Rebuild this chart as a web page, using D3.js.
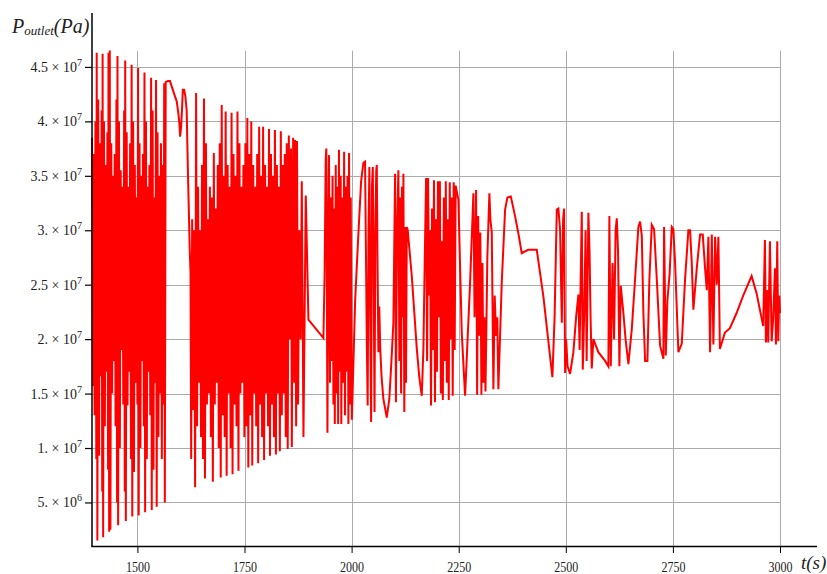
<!DOCTYPE html>
<html>
<head>
<meta charset="utf-8">
<script src="https://cdn.jsdelivr.net/npm/d3@7"></script>
<style>
  body { margin: 0; background: #fff; }
  svg { display: block; }
</style>
</head>
<body>
<div id="chart"></div>
<script>
// tick values / labels
const xTicks = [1500, 1750, 2000, 2250, 2500, 2750, 3000];
const yTicks = [4.5e7, 4e7, 3.5e7, 3e7, 2.5e7, 2e7, 1.5e7, 1e7, 5e6];
const yMantissa = ["4.5", "4.", "3.5", "3.", "2.5", "2.", "1.5", "1.", "5."];
const yExponent = ["7", "7", "7", "7", "7", "7", "7", "7", "6"];

// P_outlet series, [t (s), pressure (MPa)], read segment by segment
const segA = [[1394,38.5],[1396,15.7],[1398,37],[1400,13],[1402,40],[1404,9],[1405,46.3],[1406.5,1.5],[1408.5,42],[1410.5,9.3],[1412.5,38],[1414.5,16.6],[1416.5,41],[1417.8,6],[1418.8,46.2],[1420,1.8],[1422,40],[1424,12],[1426,36],[1428,17],[1430,39],[1431.5,8],[1432.5,46.3],[1434,2.3],[1435.5,46.5],[1437,2.5],[1439,38],[1441,15],[1443,35],[1445,18],[1447,37],[1449,12],[1451,42],[1452.5,5],[1453.5,46],[1455,2.9],[1457,40],[1459,10],[1461,35.5],[1463,19],[1465,34],[1467,14],[1469,41],[1470.5,6],[1471.5,45.6],[1473,3.3],[1475,39],[1477,13.9],[1479,34],[1481,17],[1483,38],[1485,9],[1486.5,45.2],[1488,3.7],[1490,40],[1492,7.8],[1494,36],[1496,16],[1498,33],[1500,14],[1501.5,44.9],[1503,3.8],[1505,38],[1507,10],[1509,35],[1511,18],[1513,37],[1515,12],[1516.5,44.5],[1518,4.1],[1520,40],[1522,9],[1524,34],[1526,17],[1528,36],[1530,13],[1532,44],[1533.5,4.3],[1535.5,41],[1537.5,8],[1539.5,33],[1541.5,16],[1543.5,43.8],[1545,4.6],[1547,39],[1549,11],[1551,35],[1553,15],[1555,38],[1557,9],[1559,36],[1561,14],[1562.5,43.5],[1564,5],[1566,43.6]];
const segCurve = [[1571,43.7],[1576,43.7],[1581,43.1],[1586,42.5],[1592,41.8],[1596,40.6],[1598,39.8],[1599.7,38.6],[1602,39.5],[1604,41.0],[1606,42.9],[1609,42.9],[1612,42.3],[1615,41.0],[1618,35.2],[1622,28.5],[1624,26]];
const segB = [[1625.5,9],[1627.8,31],[1630.1,13.5],[1632.4,30],[1634.7,6.4],[1637,42.6],[1639.3,12],[1641.6,34],[1643.9,16],[1646.2,30],[1648.5,11],[1650.8,36],[1653.1,9],[1655.4,42.1],[1657.7,7.2],[1660,38],[1662.3,14],[1664.6,31],[1666.9,15],[1669.2,34],[1671.5,11],[1673.8,33],[1676.1,6.9],[1678.4,37.1],[1680.7,14],[1683,32],[1685.3,16],[1687.6,36],[1689.9,10],[1692.2,38],[1694.5,7.3],[1696.8,41.5],[1699.1,13],[1701.4,35],[1703.7,11],[1706,40.9],[1708.3,7.45],[1710.6,36],[1712.9,15],[1715.2,34],[1717.5,10],[1719.8,40.8],[1722.1,7.6],[1724.4,37],[1726.7,14],[1729,35],[1731.3,12],[1733.6,40.9],[1735.9,7.9],[1738.2,38],[1740.5,15],[1742.8,34],[1745.1,16],[1747.4,36],[1749.7,11],[1752,38],[1754.3,12],[1756.6,40.3],[1758.9,8.2],[1761.2,37],[1763.5,13],[1765.8,40],[1768.1,8.4],[1770.4,36],[1772.7,15],[1775,34],[1777.3,12],[1779.6,37],[1781.9,8.6],[1784.2,39.5],[1786.5,14],[1788.8,35],[1791.1,11],[1793.4,39.5],[1795.7,8.9],[1798,36],[1800.3,15],[1802.6,34],[1804.9,12],[1807.2,39.3],[1809.5,9.3],[1811.8,37],[1814.1,14],[1816.4,35],[1818.7,11],[1821,39.2],[1823.3,9.4],[1825.6,36],[1827.9,15],[1830.2,34],[1832.5,9.7],[1834.8,39.1],[1837.1,13],[1839.4,36],[1841.7,15],[1844,37],[1846.3,11],[1848.6,38],[1850.9,9.9]];
const segBtail = [[1853.5,38.7],[1856,20],[1858.5,37.5],[1860.5,10.1],[1863.5,38.5],[1866,16],[1868,38.3],[1870.5,12],[1872.5,38.2],[1875,14],[1878,30],[1881,20],[1883.7,34.5],[1887.6,11],[1893,33.2],[1899.2,21.8],[1934.2,20.1]];
const segC = [[1937,26],[1939.5,36.5],[1941,37.5],[1943.6,11.4],[1945.6,30],[1947.2,36.9],[1949.5,16],[1951.5,33],[1953.5,18],[1955.5,35],[1957.5,14],[1959.5,32],[1960.8,12.2],[1963,36],[1965,15],[1967,34],[1968.6,12.2],[1970.5,37.4],[1972.5,17],[1974.5,35],[1976,12.2],[1978,33],[1980,16],[1982.5,37.2],[1984.5,13],[1986.5,34],[1988.5,17],[1990.5,35],[1992.5,12.2],[1994,37.1],[1996,14],[1998,33],[2000.5,12.6]];
const segD = [[2008.3,23.6],[2016,29.8],[2022.2,34.5],[2027.5,36.2],[2031.4,36.3],[2033.5,28],[2035.4,20],[2037.5,13.9],[2039.5,30],[2041.5,35.8],[2043.5,22],[2045.5,12.4],[2047.5,34],[2049.5,35.8],[2051.5,26],[2053.5,13.3],[2055.5,30],[2057.5,35.5],[2058.8,36],[2060.5,27],[2062.5,18.8],[2064.5,23],[2067,19],[2070,16.5],[2074.2,14.5],[2082.1,12.8],[2088,14.5],[2093,18],[2097.5,21.5]];
const segE = [[2101.5,35.2],[2103.5,14.2],[2106,30],[2109.2,35.5],[2111.5,18],[2113.5,33],[2115.5,15],[2117.5,34],[2119,22],[2120.9,35.2],[2123,13.3],[2125,30.3],[2127,16],[2128.8,30.3],[2131,30],[2140.5,25.8],[2152.2,19.1],[2158,16.5],[2163.8,14.8],[2167.6,19.1],[2171,28]];
const segF = [[2173.9,34.8],[2176.2,18],[2178.5,34.8],[2180.8,24],[2183.1,30],[2185.4,13.9],[2187.7,32],[2190,19],[2192.3,34.6],[2194.6,14.2],[2196.9,31],[2199.2,17],[2201.5,34.5],[2203.8,22],[2206.1,34.5],[2208.4,15],[2210.7,29],[2213,14.4],[2215.3,33],[2217.6,18],[2219.9,34.5],[2222.2,16],[2224.5,31],[2226.8,14.4],[2229.1,34.4],[2231.4,20],[2233.7,33],[2236,14.8],[2238.3,34.4],[2240.6,19],[2242.9,34.1],[2249.3,32.8],[2257.1,20.6],[2264.9,14.8],[2276.6,25.2]];
const segG = [[2284.3,33.4],[2287,22],[2290.6,33.7],[2293,14.9],[2295.5,31.3],[2298,20.3],[2300.5,29.8],[2303,14.9],[2305.5,27],[2307.6,16],[2310,22],[2312.5,15.2],[2316.9,27.6],[2321.6,33.4],[2324,31],[2327.2,29.8],[2331,15.4],[2334,24],[2337.3,20.3],[2340,22],[2342.6,15.4],[2350.5,25.2],[2358.3,31.9],[2363.7,33],[2371.6,33.1],[2381.6,31.3],[2389.3,29.7],[2397.2,27.9],[2412,28.2],[2432.3,28.2],[2447.7,23.9],[2468.7,16.5]];
const segH = [[2473.8,22],[2479,31.9],[2482.7,32],[2486.7,30],[2490.7,21.5],[2493.7,31],[2496,32],[2498.4,16.9],[2500.7,20],[2504.1,17.5],[2510,16.8],[2517.7,18.8],[2524,22],[2529.4,24.1],[2532.2,19],[2534.5,25],[2537.3,31.7],[2539.6,17.2],[2542.7,22],[2546.2,30],[2548.6,18],[2552.7,31.6],[2555.5,28],[2557.8,22],[2560.6,17.3],[2564.4,20],[2576,18.8],[2591.7,18],[2599.4,17.5],[2601.7,31.3],[2605,17.5],[2609.2,27],[2612.7,20],[2616.2,30],[2619,31.1],[2622,28],[2625.1,17.5]];
const segI = [[2628.3,24.9],[2634.4,22.4],[2639.5,20],[2646.1,17.7],[2654,20.9],[2661.7,25.5],[2669.4,30.3],[2673.4,30.8],[2677.4,29.5],[2681.1,22.4],[2685.1,18],[2690.5,18],[2695.1,25.5],[2700.7,30.5],[2706.1,30.1],[2712.4,25.5],[2720.1,19.4],[2727.8,18.2],[2729.4,30.3],[2733.4,18.5],[2737.1,23.5],[2742.3,26],[2747.4,30.3],[2751.1,30.1],[2755.1,27],[2762.8,18.8],[2770.7,19.6],[2778.4,25.5],[2786.1,30],[2790.1,30],[2794,27],[2797.8,22.7],[2805.7,26.5],[2813.4,29.6],[2819.7,29.6],[2825.1,26.5],[2829.1,24.5],[2832.8,29.4],[2836.8,18.8],[2840.8,29.6],[2844.5,19.5],[2848.5,29.4],[2852.5,25],[2856.2,29.4],[2859.7,19.1]];
const segJ = [[2871.4,20.6],[2883.1,21],[2898.7,22.4],[2914.1,24],[2933.7,25.8],[2945.4,24.2],[2953.1,22.7],[2960.8,21.2],[2964.8,29.1],[2967.1,19.7],[2970.2,24.5],[2972.5,19.7],[2976.5,29],[2980.5,19.8],[2984.2,22],[2988.2,26.5],[2990.5,19.5],[2993.6,29],[2995.9,19.8],[2998.3,24],[3000,22.4]];

const series = [].concat(segA, segCurve, segB, segBtail, segC, segD, segE, segF, segG, segH, segI, segJ)
    .map(d => ({t: d[0], p: d[1] * 1e6}));

const W = 827, H = 574;
const svg = d3.select("#chart").append("svg")
    .attr("width", W)
    .attr("height", H);

const x = d3.scaleLinear().domain([1394, 3000]).range([92, 780]);
const y = d3.scaleLinear().domain([1e6, 5e7]).range([546, 12.5]);

// grid
const grid = svg.append("g").attr("stroke", "#ababab").attr("stroke-width", 1);
grid.selectAll(".vg").data(xTicks).join("line")
    .attr("x1", d => Math.round(x(d)) + 0.5).attr("x2", d => Math.round(x(d)) + 0.5)
    .attr("y1", y(4.65e7)).attr("y2", 546);
grid.selectAll(".hg").data(yTicks).join("line")
    .attr("x1", 92).attr("x2", 780.5)
    .attr("y1", d => Math.round(y(d)) + 0.5).attr("y2", d => Math.round(y(d)) + 0.5);

// the signal
const line = d3.line().x(d => x(d.t)).y(d => y(d.p));
svg.append("path")
    .datum(series)
    .attr("fill", "none")
    .attr("stroke", "#ff0000")
    .attr("stroke-width", 2)
    .attr("d", line);

// x axis
const xAxis = svg.append("g")
    .attr("transform", "translate(0,546)")
    .call(d3.axisBottom(x).tickValues(xTicks).tickSize(7).tickPadding(8).tickFormat(d3.format("d")));
xAxis.select(".domain").remove();
xAxis.selectAll("line").attr("stroke", "#000").attr("stroke-width", 1);
xAxis.selectAll("text")
    .attr("font-family", "Liberation Serif, serif")
    .attr("font-size", 15)
    .attr("fill", "#222")
    .attr("textLength", 24)
    .attr("lengthAdjust", "spacingAndGlyphs");
svg.append("line")
    .attr("x1", 91.5).attr("x2", 817).attr("y1", 546.5).attr("y2", 546.5)
    .attr("stroke", "#000").attr("stroke-width", 1.5);

// y axis
const yAxis = svg.append("g")
    .attr("transform", "translate(92,0)")
    .call(d3.axisLeft(y).tickValues(yTicks).tickSize(7).tickFormat(""));
yAxis.select(".domain").remove();
yAxis.selectAll("line").attr("stroke", "#000").attr("stroke-width", 1.2);
svg.append("line")
    .attr("x1", 92).attr("x2", 92).attr("y1", 13).attr("y2", 547)
    .attr("stroke", "#000").attr("stroke-width", 1.5);

const yLab = svg.append("g")
    .attr("font-family", "Liberation Serif, serif")
    .attr("fill", "#222");
yTicks.forEach((v, i) => {
    const t = yLab.append("text")
        .attr("x", 82)
        .attr("y", y(v) + 5)
        .attr("text-anchor", "end")
        .attr("font-size", 14);
    t.append("tspan").text(yMantissa[i] + " \u00d7 10");
    t.append("tspan").attr("font-size", 10).attr("dy", -6).text(yExponent[i]);
});

// titles
const yt = svg.append("text")
    .attr("x", 12).attr("y", 33)
    .attr("font-family", "Liberation Serif, serif")
    .attr("font-style", "italic")
    .attr("fill", "#222");
yt.append("tspan").attr("font-size", 20).text("P");
yt.append("tspan").attr("font-size", 13).attr("dy", 2).text("outlet");
yt.append("tspan").attr("font-size", 20).attr("dy", -2).text("(Pa)");

svg.append("text")
    .attr("x", 801).attr("y", 569)
    .attr("font-family", "Liberation Serif, serif")
    .attr("font-style", "italic")
    .attr("font-size", 19)
    .attr("fill", "#222")
    .text("t(s)");
</script>
</body>
</html>
